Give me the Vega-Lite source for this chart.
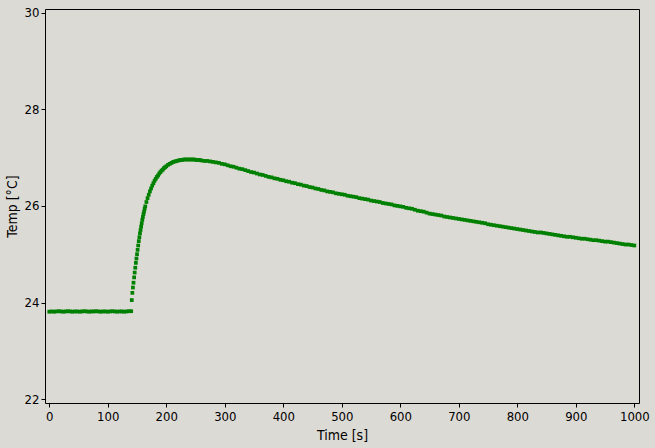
{
  "$schema": "https://vega.github.io/schema/vega-lite/v6.json",
  "width": 594,
  "height": 394,
  "autosize": {"type": "none"},
  "padding": {"left": 45, "top": 9, "right": 16, "bottom": 45},
  "background": "#dcdad5",
  "config": {
    "view": {"stroke": "#000000", "strokeWidth": 1, "fill": null},
    "axis": {
      "grid": false,
      "domain": false,
      "tickColor": "#000000",
      "tickSize": 4,
      "tickWidth": 1,
      "labelFont": "DejaVu Sans Condensed, DejaVu Sans",
      "labelFontSize": 13,
      "labelColor": "#000000",
      "titleFont": "DejaVu Sans Condensed, DejaVu Sans",
      "titleFontSize": 14,
      "titleFontWeight": "normal",
      "titleColor": "#000000"
    }
  },
  "data": {
    "values": [
      {"time":0,"temp":23.81},{"time":4,"temp":23.815},{"time":8,"temp":23.81},{"time":12,"temp":23.815},{"time":16,"temp":23.82},{"time":20,"temp":23.815},{"time":24,"temp":23.81},{"time":28,"temp":23.815},{"time":32,"temp":23.82},{"time":36,"temp":23.815},{"time":40,"temp":23.81},{"time":44,"temp":23.815},{"time":48,"temp":23.815},{"time":52,"temp":23.81},{"time":56,"temp":23.815},{"time":60,"temp":23.82},{"time":64,"temp":23.815},{"time":68,"temp":23.81},{"time":72,"temp":23.815},{"time":76,"temp":23.815},{"time":80,"temp":23.82},{"time":84,"temp":23.815},{"time":88,"temp":23.81},{"time":92,"temp":23.815},{"time":96,"temp":23.815},{"time":100,"temp":23.81},{"time":104,"temp":23.815},{"time":108,"temp":23.82},{"time":112,"temp":23.815},{"time":116,"temp":23.81},{"time":120,"temp":23.815},{"time":124,"temp":23.815},{"time":128,"temp":23.81},{"time":132,"temp":23.815},{"time":136,"temp":23.82},{"time":140,"temp":23.82},
      {"time":141,"temp":24.05},{"time":142,"temp":24.2},{"time":143,"temp":24.31},{"time":144,"temp":24.41},{"time":145,"temp":24.52},{"time":146,"temp":24.62},{"time":147,"temp":24.72},{"time":148,"temp":24.82},{"time":149,"temp":24.91},{"time":150,"temp":25.0},{"time":151,"temp":25.09},{"time":152,"temp":25.18},{"time":153,"temp":25.27},{"time":154,"temp":25.35},{"time":155,"temp":25.43},{"time":156,"temp":25.5},{"time":157,"temp":25.57},{"time":158,"temp":25.64},{"time":159,"temp":25.71},{"time":160,"temp":25.77},{"time":161,"temp":25.83},{"time":162,"temp":25.88},{"time":163,"temp":25.94},{"time":164,"temp":25.99},
      {"time":166,"temp":26.08},{"time":168,"temp":26.16},{"time":170,"temp":26.23},{"time":172,"temp":26.3},{"time":174,"temp":26.36},{"time":176,"temp":26.42},{"time":178,"temp":26.47},{"time":180,"temp":26.52},{"time":182,"temp":26.56},{"time":184,"temp":26.6},{"time":186,"temp":26.63},{"time":188,"temp":26.67},{"time":190,"temp":26.7},{"time":192,"temp":26.73},{"time":194,"temp":26.75},{"time":196,"temp":26.78},{"time":198,"temp":26.8},{"time":200,"temp":26.82},{"time":203,"temp":26.85},{"time":206,"temp":26.87},{"time":209,"temp":26.89},{"time":212,"temp":26.91},{"time":215,"temp":26.92},{"time":218,"temp":26.93},{"time":221,"temp":26.94},{"time":224,"temp":26.95},{"time":227,"temp":26.95},{"time":230,"temp":26.96},{"time":233,"temp":26.96},{"time":236,"temp":26.96},{"time":239,"temp":26.96},{"time":242,"temp":26.96},{"time":245,"temp":26.96},{"time":248,"temp":26.96},{"time":251,"temp":26.95},{"time":254,"temp":26.95},{"time":257,"temp":26.95},{"time":260,"temp":26.94},
      {"time":265,"temp":26.93},{"time":270,"temp":26.93},{"time":275,"temp":26.92},{"time":280,"temp":26.91},{"time":285,"temp":26.9},{"time":290,"temp":26.89},{"time":295,"temp":26.87},{"time":300,"temp":26.86},{"time":305,"temp":26.84},{"time":310,"temp":26.82},{"time":315,"temp":26.81},{"time":320,"temp":26.79},{"time":325,"temp":26.77},{"time":330,"temp":26.76},{"time":335,"temp":26.74},{"time":340,"temp":26.72},{"time":345,"temp":26.7},{"time":350,"temp":26.69},{"time":355,"temp":26.67},{"time":360,"temp":26.65},{"time":365,"temp":26.64},{"time":370,"temp":26.62},{"time":375,"temp":26.6},{"time":380,"temp":26.59},{"time":385,"temp":26.57},{"time":390,"temp":26.56},{"time":395,"temp":26.54},{"time":400,"temp":26.53},
      {"time":405,"temp":26.51},{"time":410,"temp":26.5},{"time":415,"temp":26.48},{"time":420,"temp":26.47},{"time":425,"temp":26.45},{"time":430,"temp":26.44},{"time":435,"temp":26.42},{"time":440,"temp":26.41},{"time":445,"temp":26.39},{"time":450,"temp":26.38},{"time":455,"temp":26.36},{"time":460,"temp":26.35},{"time":465,"temp":26.33},{"time":470,"temp":26.32},{"time":475,"temp":26.3},{"time":480,"temp":26.29},{"time":485,"temp":26.28},{"time":490,"temp":26.26},{"time":495,"temp":26.25},{"time":500,"temp":26.24},
      {"time":505,"temp":26.23},{"time":510,"temp":26.21},{"time":515,"temp":26.2},{"time":520,"temp":26.19},{"time":525,"temp":26.18},{"time":530,"temp":26.16},{"time":535,"temp":26.15},{"time":540,"temp":26.14},{"time":545,"temp":26.13},{"time":550,"temp":26.11},{"time":555,"temp":26.1},{"time":560,"temp":26.09},{"time":565,"temp":26.08},{"time":570,"temp":26.06},{"time":575,"temp":26.05},{"time":580,"temp":26.04},{"time":585,"temp":26.03},{"time":590,"temp":26.01},{"time":595,"temp":26.0},{"time":600,"temp":25.99},
      {"time":605,"temp":25.98},{"time":610,"temp":25.96},{"time":615,"temp":25.95},{"time":620,"temp":25.94},{"time":625,"temp":25.92},{"time":630,"temp":25.9},{"time":635,"temp":25.89},{"time":640,"temp":25.88},{"time":645,"temp":25.86},{"time":650,"temp":25.84},{"time":655,"temp":25.83},{"time":660,"temp":25.82},{"time":665,"temp":25.81},{"time":670,"temp":25.8},{"time":675,"temp":25.78},{"time":680,"temp":25.77},{"time":685,"temp":25.76},{"time":690,"temp":25.75},{"time":695,"temp":25.74},{"time":700,"temp":25.73},
      {"time":705,"temp":25.72},{"time":710,"temp":25.71},{"time":715,"temp":25.7},{"time":720,"temp":25.69},{"time":725,"temp":25.68},{"time":730,"temp":25.67},{"time":735,"temp":25.66},{"time":740,"temp":25.65},{"time":745,"temp":25.64},{"time":750,"temp":25.62},{"time":755,"temp":25.61},{"time":760,"temp":25.6},{"time":765,"temp":25.59},{"time":770,"temp":25.58},{"time":775,"temp":25.57},{"time":780,"temp":25.56},{"time":785,"temp":25.55},{"time":790,"temp":25.54},{"time":795,"temp":25.53},{"time":800,"temp":25.52},
      {"time":805,"temp":25.51},{"time":810,"temp":25.5},{"time":815,"temp":25.49},{"time":820,"temp":25.48},{"time":825,"temp":25.47},{"time":830,"temp":25.46},{"time":835,"temp":25.45},{"time":840,"temp":25.45},{"time":845,"temp":25.44},{"time":850,"temp":25.43},{"time":855,"temp":25.42},{"time":860,"temp":25.41},{"time":865,"temp":25.4},{"time":870,"temp":25.39},{"time":875,"temp":25.38},{"time":880,"temp":25.37},{"time":885,"temp":25.36},{"time":890,"temp":25.36},{"time":895,"temp":25.35},{"time":900,"temp":25.34},
      {"time":905,"temp":25.33},{"time":910,"temp":25.32},{"time":915,"temp":25.32},{"time":920,"temp":25.31},{"time":925,"temp":25.3},{"time":930,"temp":25.29},{"time":935,"temp":25.29},{"time":940,"temp":25.28},{"time":945,"temp":25.27},{"time":950,"temp":25.26},{"time":955,"temp":25.26},{"time":960,"temp":25.25},{"time":965,"temp":25.24},{"time":970,"temp":25.23},{"time":975,"temp":25.22},{"time":980,"temp":25.21},{"time":985,"temp":25.2},{"time":990,"temp":25.2},{"time":995,"temp":25.19},{"time":1000,"temp":25.18}
    ]
  },
  "mark": {"type": "square", "filled": true, "color": "#008000", "opacity": 1, "size": 14},
  "encoding": {
    "x": {
      "field": "time",
      "type": "quantitative",
      "title": "Time [s]",
      "scale": {"domain": [-7.3, 1008], "nice": false, "zero": false},
      "axis": {"values": [0, 100, 200, 300, 400, 500, 600, 700, 800, 900, 1000], "format": "d", "labelPadding": 3, "titlePadding": 5, "labelFlush": false, "labelOverlap": false}
    },
    "y": {
      "field": "temp",
      "type": "quantitative",
      "title": "Temp [°C]",
      "scale": {"domain": [21.92, 30.075], "nice": false, "zero": false},
      "axis": {"values": [22, 24, 26, 28, 30], "format": "d", "labelPadding": 2, "titlePadding": 5, "labelFlush": false, "labelOverlap": false}
    }
  }
}
